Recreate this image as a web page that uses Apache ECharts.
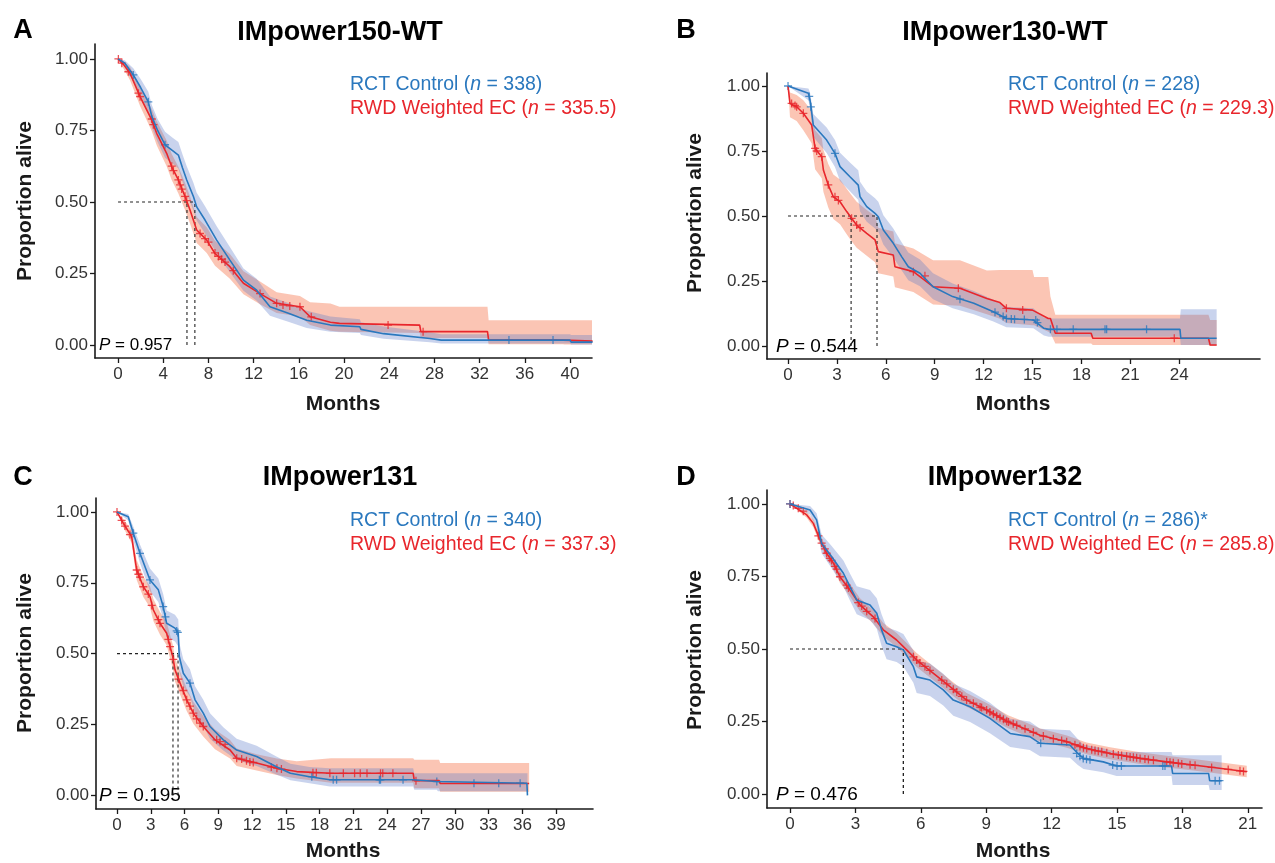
<!DOCTYPE html>
<html><head><meta charset="utf-8">
<script src="https://cdn.jsdelivr.net/npm/echarts@6/dist/echarts.min.js"></script>
<style>html,body{margin:0;padding:0;background:#fff}#c{width:1275px;height:863px}</style>
</head><body><div id="c"></div><script>
// ---------- DATA: rows are [months, survival, lower CI, upper CI] ----------
const A_RCT = [[0,1,1,1],[0.6,0.985,0.97,0.995],[1.35,0.944,0.92,0.967],[2.0,0.9,0.87,0.93],[2.68,0.85,0.815,0.885],[2.98,0.80,0.762,0.84],[3.5,0.75,0.71,0.79],[4.16,0.70,0.655,0.745],[4.8,0.68,0.635,0.725],[5.34,0.664,0.617,0.71],[5.7,0.62,0.572,0.667],[6.08,0.577,0.53,0.625],[6.67,0.519,0.47,0.567],[6.96,0.483,0.435,0.532],[7.7,0.437,0.39,0.485],[8.73,0.367,0.32,0.415],[9.9,0.297,0.255,0.343],[11.1,0.227,0.19,0.268],[12.27,0.192,0.155,0.232],[13.45,0.134,0.103,0.17],[15.2,0.11,0.08,0.145],[16.7,0.087,0.06,0.12],[18.8,0.07,0.047,0.1],[21.4,0.064,0.042,0.09],[21.5,0.055,0.035,0.08],[23.5,0.04,0.022,0.065],[27.6,0.023,0.01,0.045],[28.6,0.0175,0.006,0.038],[40,0.0175,0.006,0.038],[40.1,0.0105,0.002,0.035],[42,0.0105,0.002,0.035]];
const A_RWD = [[0,1,1,1],[0.5,0.98,0.965,0.992],[1.06,0.95,0.925,0.972],[1.95,0.868,0.835,0.9],[2.98,0.787,0.748,0.825],[3.42,0.74,0.698,0.782],[4.3,0.67,0.625,0.715],[4.75,0.623,0.577,0.668],[5.34,0.577,0.53,0.623],[5.93,0.519,0.472,0.566],[6.37,0.472,0.425,0.52],[6.96,0.402,0.357,0.448],[7.85,0.367,0.322,0.412],[8.58,0.32,0.277,0.365],[9.9,0.274,0.232,0.318],[11.1,0.216,0.178,0.258],[12.57,0.18,0.143,0.222],[14.04,0.146,0.112,0.185],[16.1,0.134,0.1,0.172],[17.0,0.099,0.07,0.15],[18.8,0.08,0.05,0.145],[19.6,0.076,0.047,0.134],[26.7,0.07,0.042,0.134],[26.8,0.047,0.025,0.134],[32.7,0.047,0.025,0.134],[32.8,0.0175,0.003,0.087],[39.4,0.0175,0.003,0.087],[39.5,0.014,0.002,0.087],[42,0.014,0.002,0.087]];
const A_RCT_CENS = [[1.35,0.944],[2.68,0.85],[4.16,0.70],[34.6,0.0175],[38.5,0.0175]];
const A_RWD_CENS = [[0.03,1.0],[0.33,0.985],[0.91,0.955],[1.8,0.88],[1.95,0.868],[2.98,0.79],[3.13,0.77],[4.75,0.625],[4.9,0.61],[5.34,0.577],[5.49,0.56],[5.63,0.545],[5.93,0.52],[6.08,0.505],[7.26,0.39],[7.7,0.372],[8.0,0.36],[8.58,0.322],[8.88,0.31],[9.17,0.3],[9.47,0.29],[10.2,0.26],[12.57,0.18],[14.04,0.146],[14.6,0.14],[15.2,0.137],[16.1,0.134],[17.1,0.099],[23.9,0.07],[27.0,0.047]];
const A_MEDIANS = [6.8, 6.1];
const A_XTICKS = [0,4,8,12,16,20,24,28,32,36,40];

const B_RCT = [[0,1,1,1],[1.25,0.972,0.945,0.99],[1.35,0.946,0.915,0.975],[1.45,0.90,0.86,0.935],[1.55,0.85,0.805,0.892],[2.37,0.792,0.742,0.84],[2.88,0.741,0.688,0.792],[3.19,0.69,0.635,0.743],[3.8,0.651,0.595,0.706],[4.31,0.619,0.562,0.676],[4.42,0.574,0.517,0.632],[4.83,0.536,0.478,0.594],[5.34,0.51,0.452,0.568],[5.54,0.497,0.44,0.555],[5.85,0.446,0.39,0.503],[6.46,0.395,0.34,0.452],[6.98,0.343,0.29,0.398],[7.38,0.305,0.253,0.36],[8.1,0.28,0.23,0.333],[8.9,0.228,0.18,0.28],[10.1,0.19,0.145,0.24],[11.4,0.164,0.122,0.212],[12.6,0.132,0.094,0.178],[13.4,0.106,0.072,0.15],[15.05,0.1,0.068,0.145],[15.7,0.068,0.04,0.11],[16.0,0.064,0.036,0.106],[24.05,0.064,0.036,0.106],[24.1,0.03,0.004,0.141],[26.3,0.03,0.004,0.141]];
const B_RWD = [[0,1,1,1],[0.12,0.933,0.88,0.975],[0.53,0.92,0.865,0.965],[0.94,0.895,0.83,0.945],[1.45,0.85,0.78,0.905],[1.66,0.76,0.68,0.83],[2.07,0.728,0.645,0.8],[2.17,0.677,0.593,0.755],[2.47,0.619,0.533,0.7],[2.78,0.574,0.488,0.66],[3.19,0.555,0.468,0.64],[3.6,0.517,0.43,0.605],[3.9,0.491,0.403,0.58],[4.21,0.465,0.378,0.555],[4.83,0.433,0.347,0.523],[5.34,0.408,0.322,0.5],[5.54,0.363,0.28,0.455],[6.46,0.35,0.267,0.44],[6.56,0.305,0.226,0.395],[7.69,0.286,0.208,0.375],[8.9,0.228,0.16,0.33],[10.55,0.222,0.155,0.33],[12.2,0.183,0.122,0.29],[13.0,0.167,0.105,0.292],[13.4,0.145,0.088,0.292],[15.0,0.138,0.08,0.292],[15.1,0.138,0.08,0.265],[15.97,0.106,0.055,0.265],[16.1,0.106,0.05,0.19],[16.4,0.049,0.01,0.12],[18.6,0.049,0.01,0.12],[18.7,0.03,0.004,0.12],[25.8,0.03,0.004,0.12],[25.9,0.004,0.0,0.1],[26.3,0.004,0.0,0.1]];
const B_RCT_CENS = [[0,1],[1.3,0.96],[1.4,0.92],[2.88,0.741],[10.55,0.18],[12.7,0.13],[13.2,0.113],[13.4,0.106],[13.7,0.104],[13.9,0.103],[14.5,0.102],[15.2,0.1],[15.3,0.09],[16.1,0.064],[16.5,0.064],[17.5,0.064],[19.45,0.064],[19.55,0.064],[22.0,0.064]];
const B_RWD_CENS = [[0.22,0.933],[0.43,0.925],[0.53,0.92],[0.94,0.895],[1.66,0.76],[1.76,0.75],[2.07,0.728],[2.47,0.62],[2.88,0.574],[3.09,0.56],[3.9,0.491],[4.21,0.465],[4.42,0.455],[7.69,0.286],[8.4,0.27],[10.45,0.222],[13.4,0.145],[14.4,0.138],[23.7,0.03]];
const B_MEDIANS = [5.46, 3.87];
const B_XTICKS = [0,3,6,9,12,15,18,21,24];

const C_RCT = [[0,1,1,1],[1.0,0.983,0.97,0.993],[1.45,0.925,0.9,0.948],[2.04,0.854,0.82,0.885],[2.93,0.76,0.72,0.8],[3.67,0.725,0.682,0.765],[4.1,0.666,0.622,0.71],[4.41,0.607,0.56,0.652],[5.15,0.59,0.543,0.637],[5.44,0.572,0.525,0.62],[5.53,0.49,0.44,0.538],[5.89,0.431,0.383,0.48],[6.48,0.396,0.348,0.445],[6.93,0.337,0.29,0.385],[7.66,0.29,0.246,0.337],[8.26,0.243,0.2,0.29],[9.44,0.196,0.158,0.24],[10.63,0.16,0.125,0.2],[12.4,0.137,0.104,0.175],[14.2,0.10,0.073,0.136],[15.4,0.078,0.053,0.112],[17.1,0.066,0.043,0.1],[18.9,0.055,0.031,0.096],[26.3,0.055,0.031,0.096],[26.4,0.049,0.02,0.078],[28.4,0.049,0.02,0.078],[28.5,0.043,0.015,0.078],[36.4,0.043,0.015,0.078],[36.45,0.0,0.015,0.078]];
const C_RWD = [[0,1,1,1],[0.56,0.96,0.945,0.975],[1.3,0.913,0.89,0.935],[1.75,0.795,0.76,0.83],[2.34,0.736,0.7,0.772],[2.93,0.701,0.663,0.738],[3.23,0.654,0.615,0.693],[3.82,0.607,0.567,0.647],[4.41,0.572,0.53,0.612],[4.71,0.525,0.484,0.567],[4.95,0.49,0.448,0.532],[5.15,0.443,0.402,0.485],[5.6,0.396,0.356,0.437],[6.19,0.337,0.298,0.377],[6.78,0.29,0.253,0.33],[7.66,0.243,0.208,0.28],[8.7,0.196,0.163,0.232],[10.04,0.16,0.13,0.195],[10.63,0.131,0.104,0.165],[12.4,0.114,0.088,0.145],[14.2,0.096,0.072,0.13],[15.96,0.084,0.06,0.12],[19.0,0.078,0.045,0.131],[26.3,0.078,0.045,0.131],[26.4,0.052,0.025,0.126],[28.6,0.052,0.025,0.126],[28.7,0.042,0.013,0.114],[36.6,0.042,0.013,0.114]];
const C_RCT_CENS = [[1.45,0.925],[2.04,0.854],[2.93,0.76],[4.1,0.666],[4.3,0.63],[5.3,0.58],[5.4,0.575],[6.48,0.396],[17.3,0.066],[19.2,0.055],[19.5,0.055],[23.3,0.055],[23.4,0.055],[25.4,0.055],[28.4,0.049],[31.7,0.043],[33.9,0.043],[35.8,0.043]];
const C_RWD_CENS = [[0,1],[0.41,0.97],[0.71,0.95],[1.15,0.92],[1.75,0.795],[1.9,0.78],[2.04,0.77],[2.34,0.736],[2.78,0.71],[3.08,0.67],[3.67,0.62],[3.82,0.607],[4.56,0.55],[4.71,0.525],[5.0,0.48],[5.45,0.41],[5.89,0.37],[6.19,0.337],[6.48,0.315],[6.78,0.29],[7.07,0.27],[7.37,0.255],[7.66,0.243],[8.85,0.196],[9.15,0.19],[9.6,0.18],[10.63,0.131],[11.07,0.128],[11.5,0.122],[11.8,0.118],[12.1,0.116],[13.7,0.1],[14.2,0.096],[14.6,0.093],[17.4,0.08],[17.7,0.08],[18.9,0.078],[20.1,0.078],[21.1,0.078],[21.6,0.078],[22.2,0.078],[23.4,0.078],[23.6,0.078],[24.5,0.078],[26.55,0.052]];
const C_MEDIANS = [5.42, 4.97];
const C_XTICKS = [0,3,6,9,12,15,18,21,24,27,30,33,36,39];

const D_RCT = [[0,1,1,1],[0.92,0.979,0.963,0.993],[1.22,0.945,0.92,0.968],[1.45,0.864,0.83,0.895],[1.91,0.818,0.778,0.855],[2.45,0.761,0.715,0.805],[2.75,0.715,0.667,0.76],[3.06,0.669,0.62,0.716],[3.67,0.652,0.6,0.703],[3.98,0.623,0.57,0.675],[4.2,0.566,0.51,0.62],[4.43,0.52,0.465,0.575],[4.89,0.508,0.455,0.563],[5.2,0.497,0.44,0.552],[5.66,0.439,0.384,0.495],[5.81,0.404,0.348,0.46],[6.42,0.393,0.338,0.45],[7.03,0.359,0.305,0.415],[7.49,0.324,0.27,0.38],[8.26,0.301,0.248,0.355],[9.17,0.261,0.21,0.315],[10.1,0.209,0.162,0.26],[11.0,0.198,0.152,0.25],[11.47,0.175,0.13,0.225],[12.84,0.169,0.125,0.22],[13.2,0.14,0.1,0.19],[13.46,0.123,0.086,0.17],[14.37,0.111,0.075,0.158],[14.98,0.097,0.062,0.145],[17.5,0.097,0.062,0.145],[17.55,0.071,0.031,0.134],[19.2,0.071,0.031,0.134],[19.25,0.046,0.014,0.134],[19.8,0.046,0.014,0.134]];
const D_RWD = [[0,1,1,1],[0.77,0.962,0.952,0.972],[1.07,0.933,0.92,0.946],[1.38,0.876,0.86,0.892],[1.68,0.83,0.812,0.848],[1.99,0.796,0.776,0.815],[2.29,0.749,0.728,0.77],[2.75,0.703,0.681,0.725],[3.21,0.652,0.63,0.675],[3.82,0.611,0.588,0.634],[4.28,0.566,0.543,0.59],[4.89,0.531,0.507,0.555],[5.35,0.497,0.473,0.521],[5.81,0.462,0.438,0.486],[6.58,0.416,0.392,0.44],[7.34,0.37,0.347,0.394],[8.1,0.324,0.301,0.348],[9.02,0.29,0.267,0.314],[10.0,0.249,0.227,0.272],[10.55,0.232,0.21,0.255],[11.47,0.203,0.182,0.226],[12.7,0.18,0.16,0.202],[13.6,0.157,0.137,0.178],[14.68,0.14,0.12,0.161],[16.06,0.123,0.104,0.144],[17.28,0.111,0.092,0.132],[18.5,0.1,0.081,0.121],[19.7,0.089,0.07,0.11],[20.95,0.077,0.058,0.098]];
const D_RCT_CENS = [[0,1],[11.5,0.175],[13.15,0.14],[13.3,0.13],[13.45,0.123],[13.6,0.12],[13.76,0.118],[14.8,0.1],[15.0,0.097],[15.2,0.097],[17.1,0.097],[17.2,0.097],[19.5,0.046],[19.7,0.046]];
const D_RWD_CENS = [[0,1],[0.15,0.995],[0.38,0.985],[0.61,0.975],[1.3,0.89],[1.45,0.865],[1.6,0.845],[1.68,0.83],[1.83,0.812],[1.91,0.805],[2.06,0.785],[2.14,0.775],[2.29,0.749],[2.6,0.72],[2.68,0.71],[3.13,0.66],[3.29,0.648],[3.52,0.63],[3.9,0.605],[5.66,0.473],[5.81,0.462],[5.96,0.452],[6.19,0.44],[6.42,0.426],[6.96,0.393],[7.19,0.38],[7.49,0.361],[7.65,0.352],[7.88,0.337],[8.1,0.324],[8.41,0.313],[8.72,0.3],[8.79,0.298],[9.02,0.29],[9.17,0.283],[9.33,0.276],[9.48,0.27],[9.63,0.264],[9.79,0.258],[9.94,0.251],[10.02,0.248],[10.24,0.242],[10.4,0.237],[10.78,0.225],[11.16,0.213],[11.62,0.2],[12.08,0.191],[12.46,0.185],[12.69,0.18],[13.07,0.17],[13.3,0.164],[13.46,0.16],[13.61,0.157],[13.84,0.153],[13.99,0.15],[14.14,0.148],[14.3,0.146],[14.53,0.142],[14.83,0.138],[15.06,0.135],[15.21,0.133],[15.44,0.13],[15.6,0.128],[15.75,0.127],[15.9,0.125],[16.06,0.123],[16.28,0.121],[16.44,0.119],[16.67,0.117],[17.28,0.111],[17.43,0.11],[17.58,0.108],[17.81,0.106],[17.97,0.104],[18.35,0.101],[18.58,0.099],[19.34,0.092],[20.1,0.085],[20.64,0.08],[20.8,0.078]];
const D_MEDIANS = [5.2, 5.2];
const D_XTICKS = [0,3,6,9,12,15,18,21];

const Y_TICKS = [0, 0.25, 0.5, 0.75, 1];
const TITLES = ['IMpower150-WT', 'IMpower130-WT', 'IMpower131', 'IMpower132'];
const LETTERS = ['A', 'B', 'C', 'D'];
const N_RCT = ['338', '228', '340', '286'];
const RCT_SUFFIX = ['', '', '', '*'];
const N_RWD = ['335.5', '229.3', '337.3', '285.8'];
const P_VALUES = ['0.957', '0.544', '0.195', '0.476'];

// ---------- STYLE / LAYOUT ----------
const BLUE = '#2a78be', RED = '#e8262c';
const BAND_RED = 'rgba(244,109,67,0.40)', BAND_BLUE = 'rgba(90,120,200,0.33)';
const FONT = 'Liberation Sans, Arial, Helvetica, sans-serif';
const PLUS = 'path://M0,4.2H10V5.8H0Z M4.2,0H5.8V10H4.2Z';
const LEG_SIZE = 19.5;

const panels = [
  {grid:{left:95, top:44, width:497, height:314}, x:[-2.04,41.95], y:[-0.045,1.052], rct:A_RCT, rwd:A_RWD, rc:A_RCT_CENS, wc:A_RWD_CENS, med:A_MEDIANS, ticks:A_XTICKS,
   letter:[23,31], title:[340,33], leg:[350,85], p:[99,345,17], ylab:[25,201], xlab:[343,404]},
  {grid:{left:767, top:73, width:493, height:286}, x:[-1.29,28.96], y:[-0.05,1.05], rct:B_RCT, rwd:B_RWD, rc:B_RCT_CENS, wc:B_RWD_CENS, med:B_MEDIANS, ticks:B_XTICKS,
   letter:[686,31], title:[1005,33], leg:[1008,85], p:[776,347,19], ylab:[695,213], xlab:[1013,404]},
  {grid:{left:96, top:498, width:497, height:311}, x:[-1.865,42.27], y:[-0.048,1.049], rct:C_RCT, rwd:C_RWD, rc:C_RCT_CENS, wc:C_RWD_CENS, med:C_MEDIANS, ticks:C_XTICKS,
   letter:[23,478], title:[340,478], leg:[350,521], p:[99,796,19], ylab:[25,653], xlab:[343,851]},
  {grid:{left:767, top:490, width:495, height:318}, x:[-1.055,21.65], y:[-0.048,1.048], rct:D_RCT, rwd:D_RWD, rc:D_RCT_CENS, wc:D_RWD_CENS, med:D_MEDIANS, ticks:D_XTICKS,
   letter:[686,478], title:[1005,478], leg:[1008,521], p:[776,795,19], ylab:[695,650], xlab:[1013,851]}
];

const grids = [], xAxes = [], yAxes = [], series = [], graphics = [];
const axisLine = {show:true, onZero:false, lineStyle:{color:'#1a1a1a', width:1.6}};
const axisTickStyle = {color:'#1a1a1a', width:1.3};

function bandSeries(i, rows, color) {
  return {
    type:'custom', xAxisIndex:i, yAxisIndex:i, silent:true, animation:false, clip:true,
    data:rows.map(r => [r[0], r[2], r[3]]),
    encode:{x:0, y:[1,2]},
    renderItem:function (params, api) {
      if (params.dataIndex !== 0) return null;
      const upper = rows.map(r => api.coord([r[0], r[3]]));
      const lower = rows.map(r => api.coord([r[0], r[2]])).reverse();
      return {type:'polygon', shape:{points:upper.concat(lower)}, style:{fill:color}};
    }
  };
}

panels.forEach((p, i) => {
  grids.push(Object.assign({containLabel:false}, p.grid));
  xAxes.push({type:'value', gridIndex:i, min:p.x[0], max:p.x[1], axisLine,
    axisTick:{show:true, length:5, lineStyle:axisTickStyle, customValues:p.ticks},
    axisLabel:{customValues:p.ticks, fontSize:17, color:'#333', fontFamily:FONT, margin:8},
    splitLine:{show:false}});
  yAxes.push({type:'value', gridIndex:i, min:p.y[0], max:p.y[1], axisLine,
    axisTick:{show:true, length:5, lineStyle:axisTickStyle, customValues:Y_TICKS},
    axisLabel:{customValues:Y_TICKS, fontSize:17, color:'#333', fontFamily:FONT, margin:7, formatter:v=>v.toFixed(2)},
    splitLine:{show:false}});

  const common = {xAxisIndex:i, yAxisIndex:i, symbol:'none', silent:true, animation:false};
  series.push(bandSeries(i, p.rwd, BAND_RED));
  series.push(bandSeries(i, p.rct, BAND_BLUE));
  const mx = Math.max(p.med[0], p.med[1]);
  [[[0,0.5],[mx,0.5]], [[p.med[0],0],[p.med[0],0.5]], [[p.med[1],0],[p.med[1],0.5]]].forEach(seg => {
    series.push(Object.assign({type:'line', data:seg, lineStyle:{color:'#222', width:1.1, type:[3,3]}}, common));
  });
  series.push(Object.assign({type:'line', data:p.rwd.map(r=>[r[0], r[1]]), lineStyle:{color:RED, width:1.6}}, common));
  series.push(Object.assign({type:'line', data:p.rct.map(r=>[r[0], r[1]]), lineStyle:{color:BLUE, width:1.6}}, common));
  series.push({type:'scatter', xAxisIndex:i, yAxisIndex:i, data:p.wc, symbol:PLUS, symbolSize:8, itemStyle:{color:RED}, silent:true, animation:false});
  series.push({type:'scatter', xAxisIndex:i, yAxisIndex:i, data:p.rc, symbol:PLUS, symbolSize:8, itemStyle:{color:BLUE}, silent:true, animation:false});

  graphics.push({type:'text', x:p.letter[0], y:p.letter[1], style:{text:LETTERS[i], fontSize:27, fontWeight:'bold', fontFamily:FONT, fill:'#000', align:'center', verticalAlign:'middle'}});
  graphics.push({type:'text', x:p.title[0], y:p.title[1], style:{text:TITLES[i], fontSize:27, fontWeight:'bold', fontFamily:FONT, fill:'#000', align:'center', verticalAlign:'middle'}});
  const legTok = (c) => ({a:{fill:c, fontSize:LEG_SIZE, fontFamily:FONT}, b:{fill:c, fontSize:LEG_SIZE, fontFamily:FONT, fontStyle:'italic'}});
  graphics.push({type:'text', x:p.leg[0], y:p.leg[1], style:{text:'{a|RCT Control (}{b|n}{a| = '+N_RCT[i]+')'+RCT_SUFFIX[i]+'}', rich:legTok(BLUE), fontSize:LEG_SIZE, fontFamily:FONT, fill:BLUE, align:'left', verticalAlign:'middle'}});
  graphics.push({type:'text', x:p.leg[0], y:p.leg[1]+24, style:{text:'{a|RWD Weighted EC (}{b|n}{a| = '+N_RWD[i]+')}', rich:legTok(RED), fontSize:LEG_SIZE, fontFamily:FONT, fill:RED, align:'left', verticalAlign:'middle'}});
  const ps = p.p[2];
  graphics.push({type:'text', x:p.p[0], y:p.p[1], style:{text:'{b|P}{a| = '+P_VALUES[i]+'}', rich:{a:{fill:'#000', fontSize:ps, fontFamily:FONT}, b:{fill:'#000', fontSize:ps, fontFamily:FONT, fontStyle:'italic'}}, fontSize:ps, fontFamily:FONT, align:'left', verticalAlign:'middle'}});
  graphics.push({type:'text', x:p.ylab[0], y:p.ylab[1], rotation:Math.PI/2, style:{text:'Proportion alive', fontSize:21, fontWeight:'bold', fontFamily:FONT, fill:'#1a1a1a', align:'center', verticalAlign:'middle'}});
  graphics.push({type:'text', x:p.xlab[0], y:p.xlab[1], style:{text:'Months', fontSize:21, fontWeight:'bold', fontFamily:FONT, fill:'#1a1a1a', align:'center', verticalAlign:'middle'}});
});

const chart = echarts.init(document.getElementById('c'), null, {renderer:'canvas'});
chart.setOption({animation:false, backgroundColor:'#fff', grid:grids, xAxis:xAxes, yAxis:yAxes, series, graphic:graphics});
</script></body></html>
